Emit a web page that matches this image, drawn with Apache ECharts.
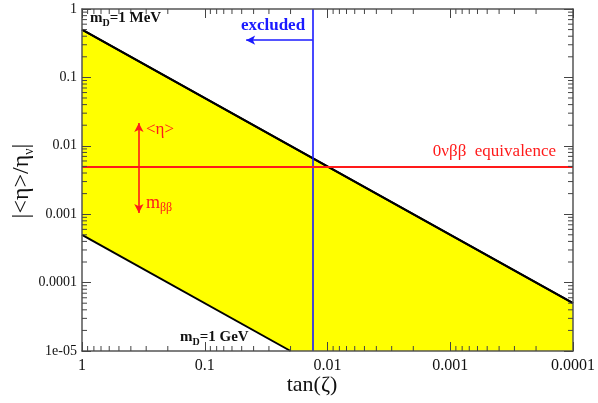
<!DOCTYPE html>
<html><head><meta charset="utf-8">
<script src="https://cdn.jsdelivr.net/npm/echarts@6/dist/echarts.min.js"></script>
<style>html,body{margin:0;padding:0;background:#fff}#c{width:598px;height:403px}</style>
</head><body><div id="c"></div>
<script>
// ---- tick values / labels ----
const xTickValues = [1, 0.1, 0.01, 0.001, 0.0001];
const xTickLabels = ['1', '0.1', '0.01', '0.001', '0.0001'];
const yTickValues = [1, 0.1, 0.01, 0.001, 0.0001, 0.00001];
const yTickLabels = ['1', '0.1', '0.01', '0.001', '0.0001', '1e-05'];
const minorMultipliers = [2, 3, 4, 5, 6, 7, 8, 9];
const xDecades = [0.0001, 0.001, 0.01, 0.1];
const yDecades = [0.00001, 0.0001, 0.001, 0.01, 0.1];

// ---- data (tan zeta, |<eta>/eta_nu|) ----
const bandTan   = [1, 0.02, 0.0001];
const bandUpper = [0.5, 0.01, 0.00005];       // m_D = 1 MeV line
const bandLower = [0.0005, 0.00001, 0.00001]; // m_D = 1 GeV line, floor of axis beyond
const gevTan    = [1, 0.02];
const gevEta    = [0.0005, 0.00001];
const excludedTan = 0.0132;
const equivalenceEta = 0.005;
const excludedArrowTan = [0.0132, 0.046];
const excludedArrowEta = 0.35;
const etaArrowTan = 0.344;
const etaArrowEta = [0.0215, 0.00104];

const X_MIN = 0.0001, X_MAX = 1, Y_MIN = 0.00001, Y_MAX = 1;
const SERIF = 'Liberation Serif';

function lab(values, labels) {
  return function (v) {
    const k = Math.round(Math.log10(v));
    const i = values.findIndex(t => Math.round(Math.log10(t)) === k);
    return i >= 0 ? labels[i] : '';
  };
}
const xMinor = [], yMinor = [];
xDecades.forEach(d => minorMultipliers.forEach(m => xMinor.push([d * m, Y_MIN])));
yDecades.forEach(d => minorMultipliers.forEach(m => yMinor.push([X_MAX, d * m])));

const axisLineStyle = { color: '#555', width: 1.5 };
const tickStyle = { color: '#444', width: 1 };

function xAx(pos, showLabel) {
  return {
    type: 'log', logBase: 10, min: X_MIN, max: X_MAX, inverse: true, position: pos, z: 10,
    axisLine: { show: true, lineStyle: axisLineStyle },
    axisTick: { show: true, inside: true, length: 9, lineStyle: tickStyle },
    axisLabel: { show: showLabel, formatter: lab(xTickValues, xTickLabels), fontFamily: SERIF, fontSize: 16, color: '#111', margin: 7 },
    splitLine: { show: false }, minorTick: { show: false }
  };
}
function yAx(pos, showLabel) {
  return {
    type: 'log', logBase: 10, min: Y_MIN, max: Y_MAX, position: pos, z: 10,
    axisLine: { show: true, lineStyle: axisLineStyle },
    axisTick: { show: true, inside: true, length: 9, lineStyle: tickStyle },
    axisLabel: { show: showLabel, formatter: lab(yTickValues, yTickLabels), fontFamily: SERIF, fontSize: 14, color: '#111', margin: 5 },
    splitLine: { show: false }, minorTick: { show: false }
  };
}

const BLUE = '#1a1aff', RED = '#ff1a1a';
const chart = echarts.init(document.getElementById('c'), null, { renderer: 'canvas' });
chart.setOption({
  animation: false,
  backgroundColor: '#fff',
  grid: { left: 82, right: 24, top: 9, bottom: 52, containLabel: false },
  xAxis: [xAx('bottom', true), xAx('top', false)],
  yAxis: [yAx('left', true), yAx('right', false)],
  series: [
    { type: 'line', z: 1, silent: true, showSymbol: false,
      data: bandTan.map((x, i) => [x, bandUpper[i]]),
      lineStyle: { color: '#000', width: 2 },
      areaStyle: { color: '#ffff00', opacity: 1, origin: 'start' } },
    { type: 'line', z: 2, silent: true, showSymbol: false,
      data: bandTan.map((x, i) => [x, bandLower[i]]),
      lineStyle: { width: 0 },
      areaStyle: { color: '#ffffff', opacity: 1, origin: 'start' } },
    { type: 'line', z: 3, silent: true, showSymbol: false,
      data: bandTan.map((x, i) => [x, bandUpper[i]]),
      lineStyle: { color: '#000', width: 2 } },
    { type: 'line', z: 3, silent: true, showSymbol: false,
      data: gevTan.map((x, i) => [x, gevEta[i]]),
      lineStyle: { color: '#000', width: 2 } },
    { type: 'line', z: 4, silent: true, data: [],
      markLine: { silent: true, symbol: 'none', precision: 8, label: { show: false }, animation: false,
        data: [
          [ { coord: [excludedTan, Y_MIN], symbol: 'none' },
            { coord: [excludedTan, Y_MAX], symbol: 'none', lineStyle: { color: BLUE, width: 1.6, type: 'solid' } } ],
          [ { coord: [X_MAX, equivalenceEta], symbol: 'none' },
            { coord: [X_MIN, equivalenceEta], symbol: 'none', lineStyle: { color: RED, width: 2.2, type: 'solid' } } ],
          [ { coord: [excludedArrowTan[0], excludedArrowEta], symbol: 'none' },
            { coord: [excludedArrowTan[1], excludedArrowEta], symbol: 'arrow', symbolSize: [7, 9],
              lineStyle: { color: BLUE, width: 1.6, type: 'solid' } } ],
          [ { coord: [etaArrowTan, etaArrowEta[0]], symbol: 'arrow', symbolSize: [7, 9] },
            { coord: [etaArrowTan, etaArrowEta[1]], symbol: 'arrow', symbolSize: [7, 9],
              lineStyle: { color: RED, width: 1.6, type: 'solid' } } ]
        ] } },
    { type: 'custom', z: 11, silent: true, clip: false, data: xMinor,
      renderItem: function (params, api) {
        const v = api.value(0);
        const b = api.coord([v, Y_MIN]), t = api.coord([v, Y_MAX]);
        return { type: 'group', children: [
          { type: 'line', shape: { x1: b[0], y1: b[1], x2: b[0], y2: b[1] - 5 }, style: { stroke: '#444', lineWidth: 1 } },
          { type: 'line', shape: { x1: t[0], y1: t[1], x2: t[0], y2: t[1] + 5 }, style: { stroke: '#444', lineWidth: 1 } }
        ] };
      } },
    { type: 'custom', z: 11, silent: true, clip: false, data: yMinor,
      renderItem: function (params, api) {
        const v = api.value(1);
        const l = api.coord([X_MAX, v]), r = api.coord([X_MIN, v]);
        return { type: 'group', children: [
          { type: 'line', shape: { x1: l[0], y1: l[1], x2: l[0] + 5, y2: l[1] }, style: { stroke: '#444', lineWidth: 1 } },
          { type: 'line', shape: { x1: r[0], y1: r[1], x2: r[0] - 5, y2: r[1] }, style: { stroke: '#444', lineWidth: 1 } }
        ] };
      } }
  ],
  graphic: [
    { type: 'text', x: 90, y: 18, z: 20, style: {
      text: '{m|m}{s|D}{m|=1 MeV}', align: 'left', verticalAlign: 'middle',
      rich: { m: { fontFamily: SERIF, fontWeight: 'bold', fontSize: 15, lineHeight: 20, fill: '#111' },
              s: { fontFamily: SERIF, fontWeight: 'bold', fontSize: 10, lineHeight: 10, verticalAlign: 'bottom', fill: '#111' } } } },
    { type: 'text', x: 180, y: 337, z: 20, style: {
      text: '{m|m}{s|D}{m|=1 GeV}', align: 'left', verticalAlign: 'middle',
      rich: { m: { fontFamily: SERIF, fontWeight: 'bold', fontSize: 15, lineHeight: 20, fill: '#111' },
              s: { fontFamily: SERIF, fontWeight: 'bold', fontSize: 10, lineHeight: 10, verticalAlign: 'bottom', fill: '#111' } } } },
    { type: 'text', x: 273, y: 26, z: 20, style: {
      text: 'excluded', align: 'center', verticalAlign: 'middle',
      fontFamily: SERIF, fontWeight: 'bold', fontSize: 17, fill: BLUE } },
    { type: 'text', x: 556, y: 152, z: 20, style: {
      text: '0νββ  equivalence', align: 'right', verticalAlign: 'middle',
      fontFamily: SERIF, fontSize: 17, fill: RED } },
    { type: 'text', x: 146, y: 130, z: 20, style: {
      text: '<η>', align: 'left', verticalAlign: 'middle',
      fontFamily: SERIF, fontSize: 17, fill: RED } },
    { type: 'text', x: 146, y: 203, z: 20, style: {
      text: '{m|m}{s|ββ}', align: 'left', verticalAlign: 'middle',
      rich: { m: { fontFamily: SERIF, fontSize: 18, lineHeight: 22, fill: RED },
              s: { fontFamily: SERIF, fontSize: 12, lineHeight: 12, verticalAlign: 'bottom', fill: RED } } } },
    { type: 'text', x: 312, y: 385, z: 20, style: {
      text: 'tan(ζ)', align: 'center', verticalAlign: 'middle',
      fontFamily: SERIF, fontSize: 22, fill: '#111' } },
    { type: 'text', x: 22, y: 181, z: 20, rotation: Math.PI / 2, style: {
      text: '{m||<η>/η}{s|ν}{m||}', align: 'center', verticalAlign: 'middle',
      rich: { m: { fontFamily: SERIF, fontSize: 24, lineHeight: 28, fill: '#111' },
              s: { fontFamily: SERIF, fontSize: 14, lineHeight: 14, verticalAlign: 'bottom', fill: '#111' } } } }
  ]
});
</script></body></html>
